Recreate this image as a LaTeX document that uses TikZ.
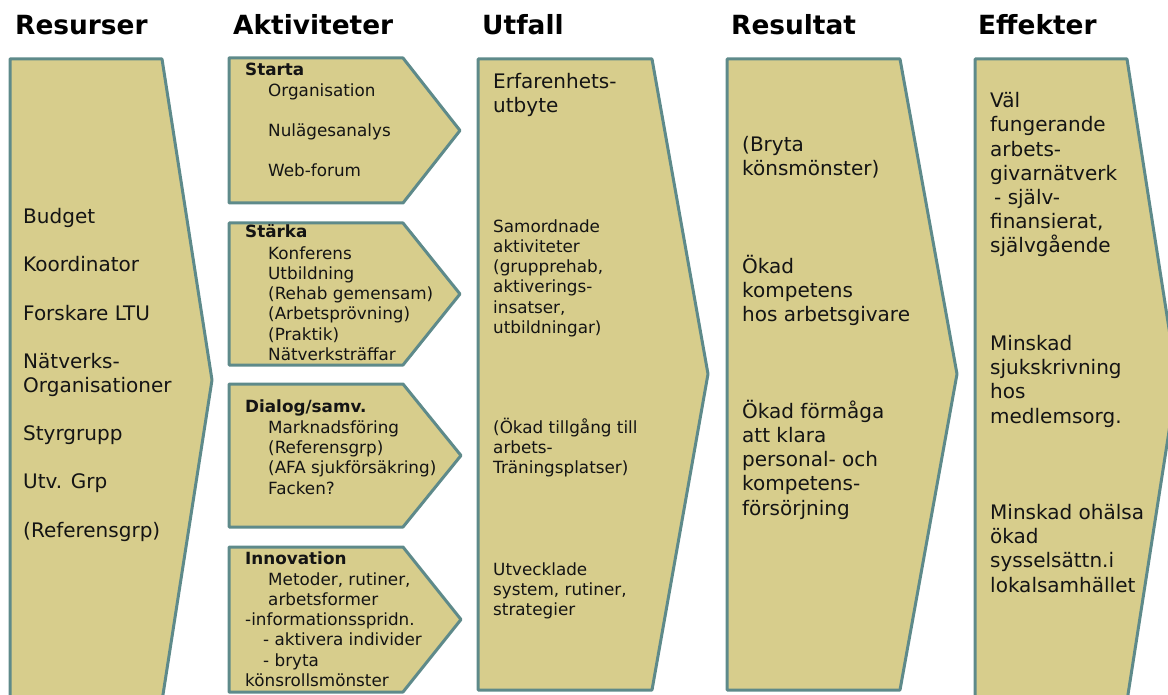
\documentclass[tikz,border=0pt]{standalone}
\usepackage{fontspec}
\setmainfont{DejaVu Sans}
\definecolor{fillk}{RGB}{215,205,140}
\definecolor{edgec}{RGB}{94,138,138}
\definecolor{txt}{RGB}{20,20,20}
\begin{document}
\begin{tikzpicture}[x=1pt,y=-1pt,
  shp/.style={fill=fillk,draw=edgec,line width=3pt,line join=round},
  hdr/.style={anchor=base west,inner sep=0,text=black,font=\fontsize{26.4}{30}\selectfont\bfseries},
  big/.style={anchor=base west,inner sep=0,align=left,text=txt,font=\fontsize{20}{24.2}\selectfont},
  sm/.style={anchor=base west,inner sep=0,align=left,text=txt,font=\fontsize{16.8}{20.3}\selectfont},
  smb/.style={sm,font=\fontsize{16.8}{20.3}\selectfont\bfseries},
]
\useasboundingbox (0,0) rectangle (1168,695);
\begin{scope}
\clip (0,0) rectangle (1168,695);
% Resurser
\draw[shp] (10,59) -- (162,59) -- (212,380) -- (162,701) -- (10,701) -- cycle;
% Aktiviteter
\draw[shp] (229,58) -- (403,58) -- (460,130.5) -- (403,203) -- (229,203) -- cycle;
\draw[shp] (229,223) -- (403,223) -- (460,294) -- (403,365) -- (229,365) -- cycle;
\draw[shp] (229,384) -- (403,384) -- (461,455.5) -- (403,527) -- (229,527) -- cycle;
\draw[shp] (229,547) -- (403,547) -- (461,619.5) -- (403,692) -- (229,692) -- cycle;
% Utfall
\draw[shp] (478,59) -- (652,59) -- (708,374) -- (652,690) -- (478,690) -- cycle;
% Resultat
\draw[shp] (727,59) -- (900,59) -- (957,374) -- (900,690) -- (727,690) -- cycle;
% Effekter
\draw[shp] (975,59) -- (1127,59) -- (1177,380) -- (1127,701) -- (975,701) -- cycle;
\end{scope}

% headers
\node[hdr] (h1) at (15,35) {Resurser};
\node[hdr] (h2) at (233,35) {Aktiviteter};
\node[hdr] (h3) at (482,35) {Utfall};
\node[hdr] (h4) at (731,35) {Resultat};
\node[hdr] (h5) at (978,35) {Effekter};

% Resurser (anchored at baseline of last line)
\node[big] (res) at (23,537) {Budget\\[24pt]Koordinator\\[24pt]Forskare LTU\\[24pt]Nätverks-\\Organisationer\\[24pt]Styrgrupp\\[24pt]Utv. Grp\\[24pt](Referensgrp)};

% Aktiviteter
\node[smb] (a1t) at (245,76) {Starta};
\node[sm] (a1) at (268,177) {Organisation\\[19.7pt]Nulägesanalys\\[19.7pt]Web-forum};
\node[smb] (a2t) at (245,238) {Stärka};
\node[sm] (a2) at (268,360.5) {Konferens\\Utbildning\\(Rehab gemensam)\\(Arbetsprövning)\\(Praktik)\\Nätverksträffar};
\node[smb] (a3t) at (245,412) {Dialog/samv.};
\node[sm] (a3) at (268,494) {Marknadsföring\\(Referensgrp)\\(AFA sjukförsäkring)\\Facken?};
\node[smb] (a4t) at (245,564) {Innovation};
\node[sm] (a4) at (245,686.5) {\hspace*{23pt}Metoder, rutiner,\\\hspace*{23pt}arbetsformer\\-informationsspridn.\\\hspace*{18pt}- aktivera individer\\\hspace*{18pt}- bryta\\könsrollsmönster};

% Utfall
\node[big] (u1) at (493,113) {Erfarenhets-\\utbyte};
\node[sm] (u2) at (493,333.5) {Samordnade\\aktiviteter\\(grupprehab,\\aktiverings-\\insatser,\\utbildningar)};
\node[sm] (u3) at (493,473.6) {(Ökad tillgång till\\arbets-\\Träningsplatser)};
\node[sm] (u4) at (493,615.6) {Utvecklade\\system, rutiner,\\strategier};

% Resultat
\node[big] (r1) at (742,176) {(Bryta\\könsmönster)};
\node[big] (r2) at (742,322) {Ökad\\kompetens\\hos arbetsgivare};
\node[big] (r3) at (742,515) {Ökad förmåga\\att klara\\personal- och\\kompetens-\\försörjning};

% Effekter
\node[big] (e1) at (990,253) {Väl\\fungerande\\arbets-\\givarnätverk\\\hspace*{4pt}- själv-\\finansierat,\\självgående};
\node[big] (e2) at (990,423) {Minskad\\sjukskrivning\\hos\\medlemsorg.};
\node[big] (e3) at (990,592) {Minskad ohälsa\\ökad\\sysselsättn.i\\lokalsamhället};
\end{tikzpicture}
\end{document}
